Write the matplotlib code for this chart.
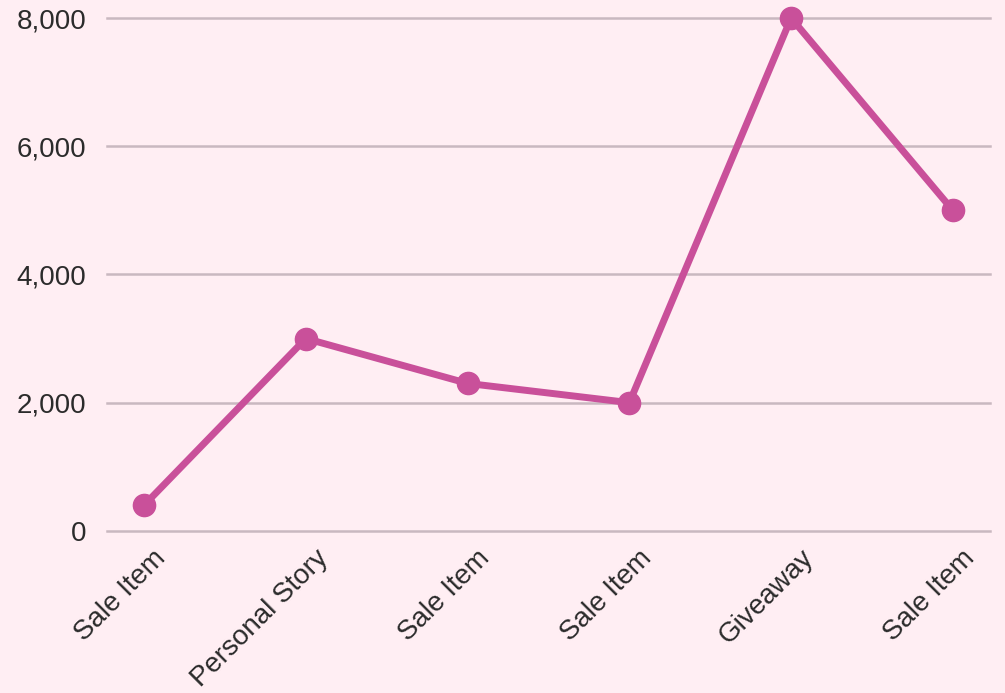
from matplotlib import pyplot as plt
from matplotlib.ticker import FuncFormatter
from matplotlib.transforms import ScaledTranslation

# Post types and their reach
categories = ["Sale Item", "Personal Story", "Sale Item", "Sale Item", "Giveaway", "Sale Item"]
values = [400, 3000, 2300, 2000, 8000, 5000]
y_ticks = [0, 2000, 4000, 6000, 8000]

bg = "#FFEEF3"
line_color = "#C9509A"

plt.rcParams['font.family'] = ['Liberation Sans', 'DejaVu Sans']

fig = plt.figure(figsize=(10.05, 6.93), dpi=100, facecolor=bg)
ax = fig.add_axes([0.1065, 0.234, 0.8785, 0.74])
ax.set_facecolor(bg)

x = list(range(len(categories)))
ax.plot(x, values, color=line_color, linewidth=5, marker="o", markersize=16,
        clip_on=False, zorder=3, solid_capstyle="round")

ax.set_xlim(-0.229, len(categories) - 1 + 0.229)
ax.set_ylim(0, 8000)
ax.set_yticks(y_ticks)
ax.yaxis.set_major_formatter(FuncFormatter(lambda v, p: f"{int(v):,}"))
ax.set_xticks(x)
ax.set_xticklabels(categories, rotation=45, ha="right", rotation_mode="anchor")

ax.grid(axis="y", color="#C9B8C0", linewidth=1.8)
for g in ax.get_ygridlines():
    g.set_clip_on(False)
ax.set_axisbelow(True)
ax.tick_params(axis="both", length=0, labelsize=20, labelcolor="#2b2b2b")
ax.tick_params(axis="y", pad=15)
ax.tick_params(axis="x", pad=10)
# nudge the rotated labels a little to the right
shift = ScaledTranslation(9 / 100, 0, fig.dpi_scale_trans)
for lbl in ax.get_xticklabels():
    lbl.set_transform(lbl.get_transform() + shift)
for s in ax.spines.values():
    s.set_visible(False)

fig.savefig("out.png", dpi=100, facecolor=bg)
